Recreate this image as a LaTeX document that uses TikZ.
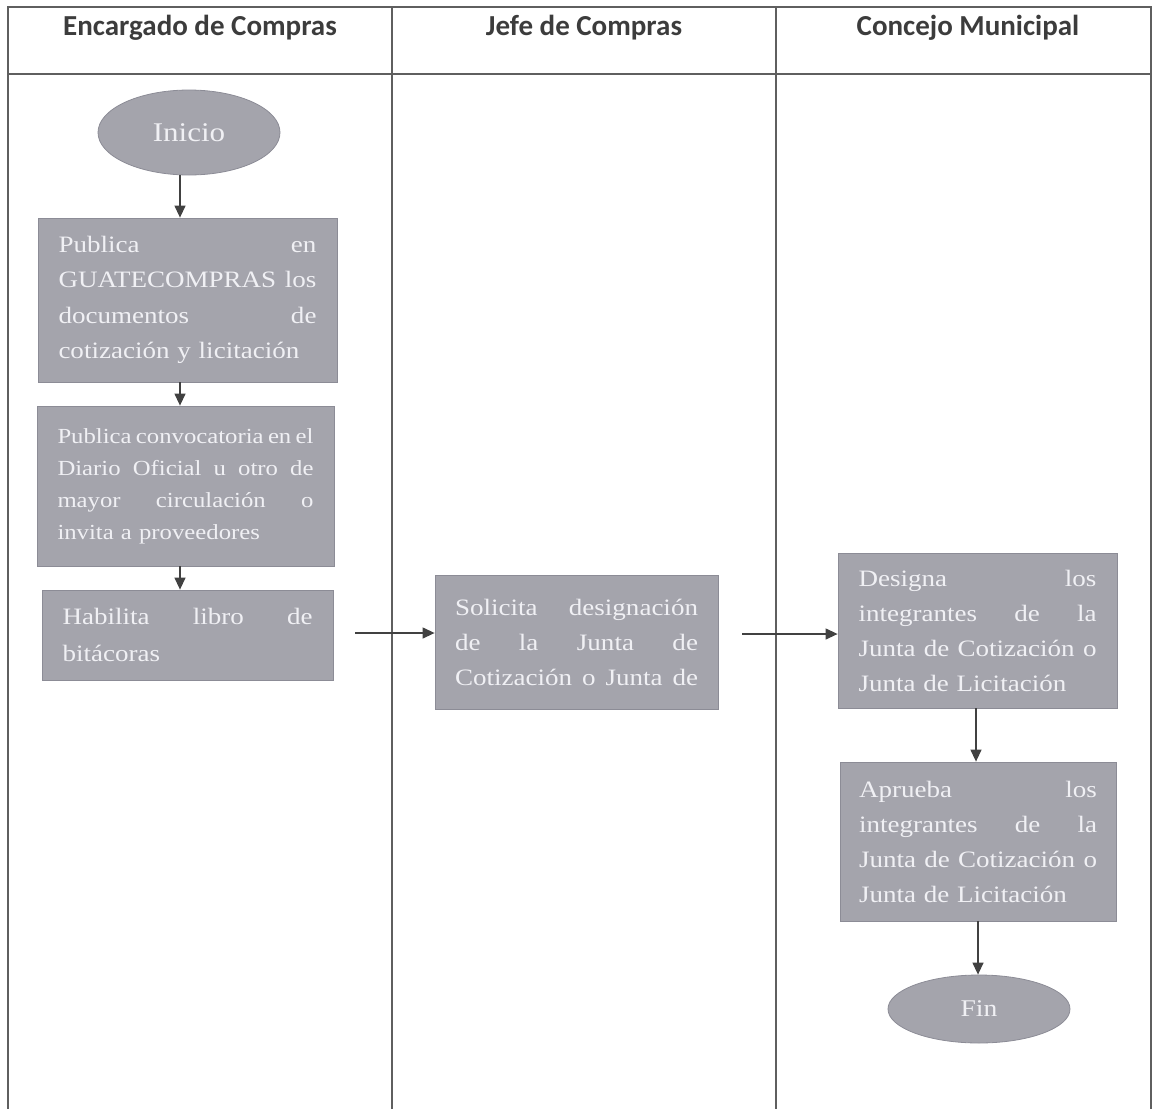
\documentclass[tikz,border=0pt]{standalone}
\usepackage{fontspec}
\usetikzlibrary{shapes.geometric,arrows.meta,calc}
\newfontfamily\bodyfont[FakeStretch=1.15]{Liberation Serif}
\newfontfamily\headfont{Carlito}
\definecolor{boxfill}{RGB}{164,164,172}
\definecolor{boxline}{RGB}{140,140,150}
\definecolor{boxtext}{RGB}{240,240,244}
\definecolor{tabline}{RGB}{95,95,95}
\definecolor{arrcol}{RGB}{65,65,65}
\definecolor{headtext}{RGB}{60,60,60}
\begin{document}
\begin{tikzpicture}[x=1pt,y=-1pt,
  tab/.style={draw=tabline,line width=1.3pt},
  headlbl/.style={anchor=base,text=headtext,font=\headfont\bfseries\fontsize{29}{34}\selectfont},
  procbox/.style={draw=boxline,fill=boxfill,line width=0.8pt,rectangle,inner sep=0pt,
     text=boxtext,align=left},
  termnode/.style={draw=boxline,fill=boxfill,line width=0.8pt,ellipse,inner sep=0pt,
     text=boxtext},
  arr/.style={draw=arrcol,line width=1.3pt,-{Triangle[length=12pt,width=11pt]}}
]
\useasboundingbox (0,0) rectangle (1152,1109);
% table
\draw[tab] (8,1109) -- (8,7) -- (1152,7);
\draw[tab] (8,74) -- (1152,74);
\draw[tab] (392,7) -- (392,1109);
\draw[tab] (776,7) -- (776,1109);
\draw[tab] (1151,7) -- (1151,1109);
% headers
\node[headlbl] (h1) at (200,35) {Encargado de Compras};
\node[headlbl] (h2) at (584,35) {Jefe de Compras};
\node[headlbl] (h3) at (968,35) {Concejo Municipal};
% column 1
\node[termnode,minimum width=182pt,minimum height=85pt,font=\bodyfont\fontsize{27}{30}\selectfont] (ini) at (189,132.5) {Inicio};
\node[procbox,minimum width=299pt,minimum height=164pt,text width=258pt,
  font=\bodyfont\fontsize{23.5}{35.5}\selectfont] (b1) at (187.5,300)
  {Publica\hfill en\\ GUATECOMPRAS\hfill los\\ documentos\hfill de\\ cotización y licitación};
\node[procbox,minimum width=297pt,minimum height=160pt,text width=256pt,
  font=\bodyfont\fontsize{21.5}{32}\selectfont] (b2) at (185.5,486)
  {Publica\hfill convocatoria\hfill en\hfill el\\ Diario\hfill Oficial\hfill u\hfill otro\hfill de\\ mayor\hfill circulación\hfill o\\ invita a proveedores};
\node[procbox,minimum width=291pt,minimum height=90pt,text width=250pt,
  font=\bodyfont\fontsize{23.5}{37}\selectfont] (b3) at (187.5,635)
  {Habilita\hfill libro\hfill de\\ bitácoras};
% column 2
\node[procbox,minimum width=283pt,minimum height=134pt,text width=243pt,
  font=\bodyfont\fontsize{23.5}{35}\selectfont] (b4) at (576.5,642)
  {Solicita\hfill designación\\ de\hfill la\hfill Junta\hfill de\\ Cotización\hfill o\hfill Junta\hfill de};
% column 3
\node[procbox,minimum width=279pt,minimum height=155pt,text width=238pt,
  font=\bodyfont\fontsize{23.5}{35}\selectfont] (b5) at (977.5,630.5)
  {Designa\hfill los\\ integrantes\hfill de\hfill la\\ Junta\hfill de\hfill Cotización\hfill o\\ Junta de Licitación};
\node[procbox,minimum width=276pt,minimum height=159pt,text width=238pt,
  font=\bodyfont\fontsize{23.5}{35}\selectfont] (b6) at (978,841.5)
  {Aprueba\hfill los\\ integrantes\hfill de\hfill la\\ Junta\hfill de\hfill Cotización\hfill o\\ Junta de Licitación};
\node[termnode,minimum width=182pt,minimum height=68pt,font=\bodyfont\fontsize{24}{28}\selectfont] (fin) at (979,1009) {Fin};
% connectors
\coordinate (ax) at (180,0);
\coordinate (hy1) at (0,633);
\coordinate (hy2) at (0,634);
\coordinate (cx1) at (976,0);
\coordinate (cx2) at (978,0);
\draw[arr] (ini.south -| ax) -- (b1.north -| ax);
\draw[arr] (b1.south -| ax) -- (b2.north -| ax);
\draw[arr] (b2.south -| ax) -- (b3.north -| ax);
\draw[arr] ($(b3.east |- hy1)+(22,0)$) -- (b4.west |- hy1);
\draw[arr] ($(b4.east |- hy2)+(24,0)$) -- (b5.west |- hy2);
\draw[arr] (b5.south -| cx1) -- (b6.north -| cx1);
\draw[arr] (b6.south -| cx2) -- (fin.north -| cx2);
\end{tikzpicture}
\end{document}
